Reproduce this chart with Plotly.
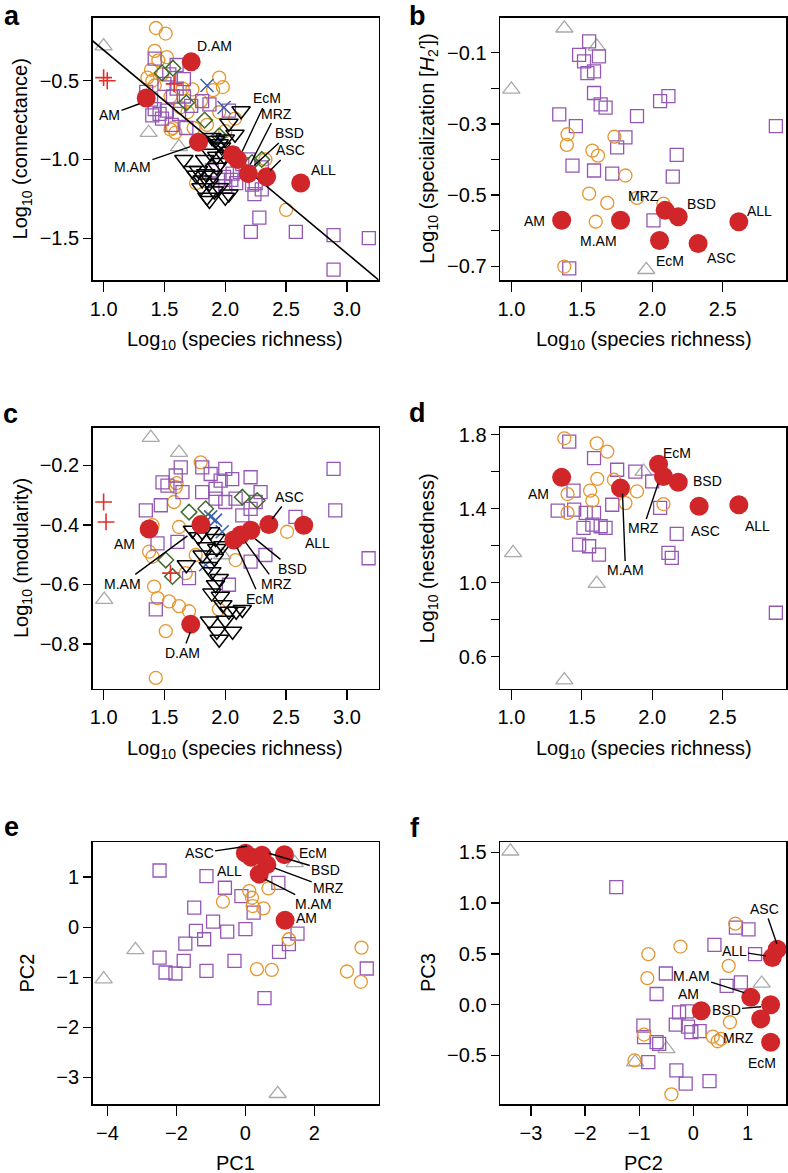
import plotly.graph_objects as go

W, H = 788, 1173
FONT = "Liberation Sans, Arial, Helvetica, sans-serif"

C_GRAY = "#A9A9A9"
C_ORANGE = "#E5962E"
C_PURPLE = "#9457B4"
C_GREEN = "#3F6B2E"
C_BLUE = "#3F5FAE"
C_CROSS = "#E0302A"
C_BLACK = "#000000"
C_RED = "#D0262A"

# ---------------- Panel a: richness vs connectance ----------------
a_gray_x = [1.00, 1.37, 1.62]
a_gray_y = [-0.28, -0.83, -0.92]
a_cross_x = [1.00, 1.03, 1.58]
a_cross_y = [-0.48, -0.50, -0.52]
a_blue_x = [1.85, 1.99, 1.95]
a_blue_y = [-0.53, -0.67, -0.88]
a_green_x = [1.48, 1.57, 1.68, 1.83, 1.95, 2.22, 2.30]
a_green_y = [-0.45, -0.42, -0.64, -0.75, -0.85, -1.02, -1.00]
a_orange_x = [1.43, 1.51, 1.42, 1.52, 1.45, 1.39, 1.36, 1.40, 1.42, 1.48, 1.73, 1.95, 1.98, 1.90,
              1.63, 1.69, 1.57, 1.59, 1.55, 1.74, 1.85, 2.08, 2.33, 2.50, 1.76, 1.65, 1.55, 1.80,
              2.00, 1.95]
a_orange_y = [-0.165, -0.20, -0.31, -0.35, -0.37, -0.43, -0.48, -0.50, -0.53, -0.46, -0.555, -0.48,
              -0.54, -0.56, -0.67, -0.70, -0.80, -0.83, -0.81, -0.80, -0.78, -0.74, -1.00, -1.32,
              -1.15, -0.55, -0.60, -0.63, -0.82, -0.70]
a_purple_x = [1.42, 1.35, 1.39, 1.42, 1.46, 1.48, 1.40, 1.52, 1.62, 1.66, 1.66, 1.57, 1.60, 1.68,
              1.81, 1.87, 2.03, 1.72, 1.56, 1.50, 1.54, 1.60, 1.99, 2.06, 2.14, 2.19, 2.09, 2.25,
              2.30, 2.00, 1.89, 2.22, 2.24, 2.12, 2.05, 2.21, 2.28, 2.58, 2.89, 3.18, 2.89, 2.30,
              1.94]
a_purple_y = [-0.36, -0.57, -0.62, -0.68, -0.71, -0.74, -0.72, -0.69, -0.71, -0.60, -0.49, -0.60,
              -0.55, -0.80, -0.63, -0.65, -0.69, -0.66, -0.78, -0.52, -0.46, -0.40, -1.11, -1.09,
              -1.03, -1.00, -1.15, -1.15, -1.19, -1.17, -1.07, -1.16, -1.22, -1.08, -1.13, -1.46,
              -1.37, -1.46, -1.48, -1.50, -1.70, -1.05, -1.13]
a_black_x = [2.13, 2.03, 2.08, 1.89, 1.95, 1.92, 2.00, 1.97, 2.03, 1.88, 1.93, 1.66, 1.73, 1.78,
             1.84, 1.81, 1.76, 1.90, 1.87, 1.85, 1.87, 1.95, 2.00, 2.03, 1.93, 1.96, 1.83, 1.99,
             1.91, 1.80]
a_black_y = [-0.69, -0.77, -0.84, -0.86, -0.90, -0.88, -0.87, -0.92, -0.95, -0.96, -0.98, -1.00,
             -1.07, -1.07, -1.09, -1.13, -1.10, -1.10, -1.15, -1.24, -1.26, -1.18, -1.24, -1.22,
             -1.05, -1.02, -1.00, -0.98, -1.20, -1.18]
a_red_labels = ["AM", "D.AM", "M.AM", "EcM", "MRZ", "BSD", "ASC", "ALL"]
a_red_x = [1.35, 1.72, 1.78, 2.06, 2.10, 2.19, 2.34, 2.62]
a_red_y = [-0.61, -0.38, -0.89, -0.97, -1.00, -1.09, -1.11, -1.15]
a_fit_intercept = 0.341
a_fit_slope = -0.646

# ---------------- Panel b: richness vs specialization ----------------
b_gray_x = [1.376, 1.00, 1.606, 1.958]
b_gray_y = [-0.031, -0.203, -0.082, -0.710]
b_purple_x = [1.552, 1.481, 1.516, 1.540, 1.587, 1.622, 1.587, 1.634, 1.669, 1.340, 1.458, 1.892,
              2.056, 2.115, 2.878, 1.810, 1.751, 1.434, 1.587, 1.716, 2.174, 2.146, 2.009, 1.411]
b_purple_y = [-0.068, -0.106, -0.124, -0.157, -0.152, -0.110, -0.213, -0.245, -0.254, -0.273,
              -0.306, -0.278, -0.236, -0.222, -0.306, -0.338, -0.366, -0.417, -0.431, -0.440,
              -0.387, -0.448, -0.571, -0.706]
b_orange_x = [1.399, 1.394, 1.575, 1.615, 1.732, 1.810, 1.552, 1.681, 1.892, 1.599, 2.080, 1.376]
b_orange_y = [-0.329, -0.359, -0.375, -0.389, -0.336, -0.445, -0.496, -0.522, -0.508, -0.575,
              -0.524, -0.701]
b_red_labels = ["AM", "M.AM", "MRZ", "BSD", "EcM", "ASC", "ALL"]
b_red_x = [1.357, 1.775, 2.092, 2.185, 2.052, 2.326, 2.615]
b_red_y = [-0.571, -0.571, -0.543, -0.561, -0.628, -0.636, -0.575]

# ---------------- Panel c: richness vs modularity ----------------
c_gray_x = [1.388, 1.620, 1.005, 1.975]
c_gray_y = [-0.107, -0.157, -0.651, -0.501]
c_cross_x = [1.00, 1.02, 1.55]
c_cross_y = [-0.323, -0.390, -0.562]
c_blue_x = [1.88, 1.92, 1.975, 1.839]
c_blue_y = [-0.373, -0.384, -0.423, -0.534]
c_green_x = [1.702, 1.839, 2.14, 2.262, 1.511, 1.566]
c_green_y = [-0.357, -0.346, -0.307, -0.318, -0.518, -0.573]
c_orange_x = [1.798, 1.593, 1.579, 1.402, 1.620, 1.374, 1.402, 1.415, 1.443, 1.538, 1.620, 1.702,
              1.511, 1.429, 1.757, 1.675, 2.085, 2.508, 1.948, 1.600]
c_orange_y = [-0.190, -0.273, -0.323, -0.401, -0.407, -0.490, -0.507, -0.607, -0.646, -0.657,
              -0.673, -0.690, -0.757, -0.914, -0.501, -0.562, -0.518, -0.423, -0.684, -0.260]
c_purple_x = [1.634, 1.811, 1.880, 2.000, 1.962, 2.057, 2.208, 1.484, 1.525, 1.593, 1.648, 1.470,
              1.347, 2.290, 2.250, 1.920, 2.000, 2.085, 2.208, 2.140, 2.577, 2.890, 2.904, 3.178,
              2.208, 2.330, 1.607, 1.443, 1.702, 2.030, 1.429, 1.920, 1.810]
c_purple_y = [-0.207, -0.207, -0.229, -0.212, -0.251, -0.246, -0.240, -0.257, -0.268, -0.234,
              -0.290, -0.334, -0.351, -0.290, -0.323, -0.312, -0.323, -0.312, -0.346, -0.368,
              -0.373, -0.212, -0.351, -0.512, -0.523, -0.501, -0.457, -0.462, -0.579, -0.601,
              -0.684, -0.279, -0.290]
c_black_x = [1.73, 1.81, 1.88, 1.92, 1.84, 1.93, 1.98, 1.81, 1.91, 1.68, 1.89, 1.92, 1.89, 1.98,
             2.03, 2.09, 2.14, 1.87, 1.93, 2.06, 1.95, 1.78, 1.86, 1.95, 2.00, 1.96]
c_black_y = [-0.418, -0.423, -0.423, -0.446, -0.473, -0.479, -0.470, -0.501, -0.512, -0.534,
             -0.557, -0.601, -0.629, -0.668, -0.690, -0.690, -0.684, -0.723, -0.757, -0.757,
             -0.784, -0.440, -0.540, -0.580, -0.720, -0.640]
c_red_labels = ["AM", "D.AM", "M.AM", "EcM", "MRZ", "BSD", "ASC", "ALL"]
c_red_x = [1.374, 1.716, 1.800, 2.070, 2.126, 2.210, 2.358, 2.645]
c_red_y = [-0.414, -0.734, -0.399, -0.451, -0.434, -0.418, -0.399, -0.401]

# ---------------- Panel d: richness vs nestedness ----------------
d_gray_x = [1.012, 1.606, 1.376, 1.939]
d_gray_y = [1.161, 0.995, 0.474, 1.600]
d_orange_x = [1.376, 1.606, 1.681, 1.610, 1.728, 1.559, 1.399, 1.575, 1.399, 1.810, 1.892, 2.080]
d_orange_y = [1.780, 1.753, 1.708, 1.561, 1.556, 1.497, 1.479, 1.443, 1.377, 1.430, 1.493, 1.425]
d_purple_x = [1.411, 1.587, 1.751, 1.880, 2.000, 1.441, 1.329, 1.446, 1.528, 1.587, 1.716, 1.512,
              1.575, 1.634, 1.669, 1.481, 1.552, 1.622, 2.056, 2.174, 2.115, 2.139, 2.878]
d_purple_y = [1.762, 1.673, 1.610, 1.600, 1.547, 1.497, 1.389, 1.395, 1.377, 1.377, 1.421, 1.296,
              1.314, 1.305, 1.296, 1.206, 1.197, 1.152, 1.404, 1.264, 1.161, 1.134, 0.838]
d_red_labels = ["AM", "M.AM", "EcM", "MRZ", "BSD", "ASC", "ALL"]
d_red_x = [1.357, 1.775, 2.045, 2.080, 2.185, 2.333, 2.615]
d_red_y = [1.569, 1.511, 1.640, 1.574, 1.543, 1.413, 1.421]

# ---------------- Panel e: PC1 vs PC2 ----------------
e_gray_x = [-4.11, -3.19, 0.935, 1.43]
e_gray_y = [-1.04, -0.454, -3.33, 1.285]
e_purple_x = [-2.49, -1.13, -0.595, -0.117, -1.485, -0.939, -1.436, -1.197, -1.743, -0.528, 0.0,
              -2.49, -1.79, -2.317, -2.03, -1.13, -0.318, 0.237, 0.954, 1.509, 1.26, 0.974,
              3.518, 0.553]
e_purple_y = [1.133, 1.02, 0.788, 0.622, 0.389, 0.11, -0.076, -0.242, -0.328, -0.089, -0.04,
              -0.607, -0.673, -0.906, -0.926, -0.873, -0.673, 0.29, 0.887, -0.129, -0.341, -0.494,
              -0.826, -1.417]
e_orange_x = [-0.653, 0.112, 0.189, 0.208, 0.524, 0.668, 1.26, 0.333, 0.763, 3.365, 2.944, 3.346]
e_orange_y = [0.509, 0.721, 0.588, 0.422, 0.376, 0.774, -0.242, -0.839, -0.853, -0.408, -0.886,
              -1.092]
e_red_labels = ["ASC", "ALL", "BSD", "EcM", "MRZ", "M.AM", "AM"]
e_red_x = [0.00, 0.16, 0.48, 1.13, 0.62, 0.40, 1.15]
e_red_y = [1.48, 1.40, 1.44, 1.45, 1.25, 1.06, 0.14]

# ---------------- Panel f: PC2 vs PC3 ----------------
f_gray_x = [-3.38, 1.261, -0.497, -1.077]
f_gray_y = [1.51, 0.209, -0.435, -0.565]
f_purple_x = [-1.425, 0.388, 0.785, 1.017, 1.139, -0.509, -0.68, 0.614, 0.877, -0.265, -0.118,
              -0.326, -0.10, -0.039, 0.114, -0.924, -0.912, -0.68, -0.632, -0.833, -0.314, -0.143,
              0.297]
f_purple_y = [1.157, 0.588, 0.758, 0.742, 0.497, 0.307, 0.105, 0.186, 0.219, -0.075, -0.065,
              -0.196, -0.216, -0.271, -0.261, -0.206, -0.32, -0.369, -0.386, -0.565, -0.647,
              -0.778, -0.752]
f_orange_x = [0.773, -0.24, -0.833, -0.851, 0.651, 0.675, -0.912, 0.358, 0.449, 0.51, -1.089,
              -0.406]
f_orange_y = [0.797, 0.572, 0.497, 0.261, 0.382, -0.173, -0.294, -0.314, -0.36, -0.337, -0.549,
              -0.882]
f_red_labels = ["AM", "M.AM", "ASC", "ALL", "BSD", "MRZ", "EcM"]
f_red_x = [0.144, 1.06, 1.548, 1.457, 1.426, 1.243, 1.426]
f_red_y = [-0.059, 0.072, 0.546, 0.464, 0.0, -0.14, -0.369]

# ================= figure =================
fig = go.Figure()


def px_x(px):
    return px / W


def px_y(py):
    return 1 - py / H


S_OPEN_CIRCLE = 13
S_SQUARE = 13
S_TRI = 15
S_TRI_DOWN = 16
S_DIAMOND = 12
S_RED = 19


def add_pts(xs, ys, symbol, color, size, ax, lw=1.3, filled=False):
    xa, ya = ax
    if filled:
        marker = dict(symbol=symbol, size=size, color=color, line=dict(width=0))
    else:
        marker = dict(symbol=symbol, size=size, color=color, line=dict(color=color, width=lw))
    fig.add_trace(go.Scatter(x=xs, y=ys, mode="markers", marker=marker,
                             xaxis=xa, yaxis=ya, hoverinfo="skip", cliponaxis=False))


AX = {"a": ("x", "y"), "b": ("x2", "y2"), "c": ("x3", "y3"),
      "d": ("x4", "y4"), "e": ("x5", "y5"), "f": ("x6", "y6")}

# panel a
add_pts(a_gray_x, a_gray_y, "triangle-up-open", C_GRAY, S_TRI, AX["a"])
add_pts(a_orange_x, a_orange_y, "circle-open", C_ORANGE, S_OPEN_CIRCLE, AX["a"])
add_pts(a_purple_x, a_purple_y, "square-open", C_PURPLE, S_SQUARE, AX["a"])
add_pts(a_green_x, a_green_y, "diamond-open", C_GREEN, S_DIAMOND, AX["a"], lw=1.5)
add_pts(a_blue_x, a_blue_y, "x-thin", C_BLUE, 13, AX["a"], lw=1.6)
add_pts(a_cross_x, a_cross_y, "cross-thin", C_CROSS, 12, AX["a"], lw=1.6)
add_pts(a_black_x, a_black_y, "triangle-down-open", C_BLACK, S_TRI_DOWN, AX["a"], lw=1.5)
fit_x = [0.85, 3.40]
fit_y = [a_fit_intercept + a_fit_slope * v for v in fit_x]
fig.add_trace(go.Scatter(x=fit_x, y=fit_y, mode="lines", line=dict(color="black", width=1.6),
                         xaxis="x", yaxis="y", hoverinfo="skip"))
add_pts(a_red_x, a_red_y, "circle", C_RED, S_RED, AX["a"], filled=True)

# panel b
add_pts(b_gray_x, b_gray_y, "triangle-up-open", C_GRAY, S_TRI, AX["b"])
add_pts(b_purple_x, b_purple_y, "square-open", C_PURPLE, S_SQUARE, AX["b"])
add_pts(b_orange_x, b_orange_y, "circle-open", C_ORANGE, S_OPEN_CIRCLE, AX["b"])
add_pts(b_red_x, b_red_y, "circle", C_RED, S_RED, AX["b"], filled=True)

# panel c
add_pts(c_gray_x, c_gray_y, "triangle-up-open", C_GRAY, S_TRI, AX["c"])
add_pts(c_orange_x, c_orange_y, "circle-open", C_ORANGE, S_OPEN_CIRCLE, AX["c"])
add_pts(c_purple_x, c_purple_y, "square-open", C_PURPLE, S_SQUARE, AX["c"])
add_pts(c_green_x, c_green_y, "diamond-open", C_GREEN, S_DIAMOND, AX["c"], lw=1.5)
add_pts(c_blue_x, c_blue_y, "x-thin", C_BLUE, 13, AX["c"], lw=1.6)
add_pts(c_cross_x, c_cross_y, "cross-thin", C_CROSS, 12, AX["c"], lw=1.6)
add_pts(c_black_x, c_black_y, "triangle-down-open", C_BLACK, S_TRI_DOWN, AX["c"], lw=1.5)
add_pts(c_red_x, c_red_y, "circle", C_RED, S_RED, AX["c"], filled=True)

# panel d
add_pts(d_gray_x, d_gray_y, "triangle-up-open", C_GRAY, S_TRI, AX["d"])
add_pts(d_purple_x, d_purple_y, "square-open", C_PURPLE, S_SQUARE, AX["d"])
add_pts(d_orange_x, d_orange_y, "circle-open", C_ORANGE, S_OPEN_CIRCLE, AX["d"])
add_pts(d_red_x, d_red_y, "circle", C_RED, S_RED, AX["d"], filled=True)

# panel e
add_pts(e_gray_x, e_gray_y, "triangle-up-open", C_GRAY, S_TRI, AX["e"])
add_pts(e_purple_x, e_purple_y, "square-open", C_PURPLE, S_SQUARE, AX["e"])
add_pts(e_orange_x, e_orange_y, "circle-open", C_ORANGE, S_OPEN_CIRCLE, AX["e"])
add_pts(e_red_x, e_red_y, "circle", C_RED, S_RED, AX["e"], filled=True)

# panel f
add_pts(f_gray_x, f_gray_y, "triangle-up-open", C_GRAY, S_TRI, AX["f"])
add_pts(f_purple_x, f_purple_y, "square-open", C_PURPLE, S_SQUARE, AX["f"])
add_pts(f_orange_x, f_orange_y, "circle-open", C_ORANGE, S_OPEN_CIRCLE, AX["f"])
add_pts(f_red_x, f_red_y, "circle", C_RED, S_RED, AX["f"], filled=True)

TICK_FONT = dict(family=FONT, size=20, color="black")


def axis(rng, dom, anchor, vals, texts, ticklen, minor_vals=None):
    d = dict(range=rng, domain=dom, anchor=anchor, tickmode="array", tickvals=vals,
             ticktext=texts, showline=True, mirror=True, linecolor="black", linewidth=1.5,
             ticks="outside", ticklen=ticklen, tickwidth=1.3, tickcolor="black",
             showgrid=False, zeroline=False, fixedrange=True, tickfont=TICK_FONT)
    if minor_vals:
        d["minor"] = dict(tickmode="array", tickvals=minor_vals, ticks="outside",
                          ticklen=ticklen, tickwidth=1.3, tickcolor="black", showgrid=False)
    return d


LEFT_X = [px_x(90), px_x(377)]
RIGHT_X = [px_x(499), px_x(786)]
ROW1 = [px_y(277), px_y(14)]
ROW2 = [px_y(687), px_y(425)]
ROW3 = [px_y(1104), px_y(841)]

rich_vals = [1.0, 1.5, 2.0, 2.5, 3.0]
rich_text = ["1.0", "1.5", "2.0", "2.5", "3.0"]
rich_vals_b = [1.0, 1.5, 2.0, 2.5]
rich_text_b = ["1.0", "1.5", "2.0", "2.5"]

fig.update_layout(
    width=W, height=H, margin=dict(l=0, r=0, t=0, b=0),
    paper_bgcolor="white", plot_bgcolor="white", showlegend=False,
    font=dict(family=FONT, color="black"),
    xaxis=axis([0.91, 3.26], LEFT_X, "y", rich_vals, rich_text, 10),
    yaxis=axis([-1.766, -0.101], ROW1, "x", [-0.5, -1.0, -1.5], ["−0.5", "−1.0", "−1.5"], 8),
    xaxis2=axis([0.92, 2.95], RIGHT_X, "y2", rich_vals_b, rich_text_b, 10),
    yaxis2=axis([-0.739, -0.002], ROW1, "x2", [-0.1, -0.3, -0.5, -0.7],
                ["−0.1", "−0.3", "−0.5", "−0.7"], 8, minor_vals=[-0.2, -0.4, -0.6]),
    xaxis3=axis([0.91, 3.26], LEFT_X, "y3", rich_vals, rich_text, 10),
    yaxis3=axis([-0.95, -0.073], ROW2, "x3", [-0.2, -0.4, -0.6, -0.8],
                ["−0.2", "−0.4", "−0.6", "−0.8"], 8),
    xaxis4=axis([0.92, 2.95], RIGHT_X, "y4", rich_vals_b, rich_text_b, 10),
    yaxis4=axis([0.428, 1.838], ROW2, "x4", [1.8, 1.4, 1.0, 0.6],
                ["1.8", "1.4", "1.0", "0.6"], 8, minor_vals=[1.6, 1.2, 0.8]),
    xaxis5=axis([-4.43, 3.86], LEFT_X, "y5", [-4, -2, 0, 2], ["−4", "−2", "0", "2"], 10),
    yaxis5=axis([-3.54, 1.70], ROW3, "x5", [1, 0, -1, -2, -3], ["1", "0", "−1", "−2", "−3"], 8),
    xaxis6=axis([-3.57, 1.71], RIGHT_X, "y6", [-3, -2, -1, 0, 1], ["−3", "−2", "−1", "0", "1"], 10),
    yaxis6=axis([-0.98, 1.60], ROW3, "x6", [1.5, 1.0, 0.5, 0.0, -0.5],
                ["1.5", "1.0", "0.5", "0.0", "−0.5"], 8),
)

ann = []
LBL = dict(family=FONT, size=14, color="black")


def label(panel, text, x, y):
    xa, ya = AX[panel]
    ann.append(dict(x=x, y=y, xref=xa, yref=ya, text=text, showarrow=False, font=LBL))


def pointer(panel, text, x, y, dx, dy):
    xa, ya = AX[panel]
    ann.append(dict(x=x, y=y, xref=xa, yref=ya, text=text, showarrow=True, arrowhead=0,
                    arrowwidth=1.4, arrowcolor="black", ax=dx, ay=dy, font=LBL,
                    borderpad=1, standoff=0))


# panel a labels
pointer("a", "AM", 1.295, -0.646, -30, 11)
label("a", "D.AM", 1.91, -0.278)
pointer("a", "M.AM", 1.713, -0.918, -58, 20)
pointer("a", "EcM", 2.139, -0.949, 25, -53)
pointer("a", "MRZ", 2.205, -1.032, 26, -51)
pointer("a", "BSD", 2.238, -1.038, 35, -32)
pointer("a", "ASC", 2.369, -1.07, 20, -20)
label("a", "ALL", 2.81, -1.07)

# panel b labels
label("b", "AM", 1.162, -0.574)
label("b", "M.AM", 1.62, -0.63)
label("b", "MRZ", 1.937, -0.502)
label("b", "BSD", 2.352, -0.524)
label("b", "EcM", 2.127, -0.686)
label("b", "ASC", 2.493, -0.678)
label("b", "ALL", 2.761, -0.544)

# panel c labels
label("c", "AM", 1.172, -0.463)
pointer("c", "M.AM", 1.689, -0.437, -65, 48)
pointer("c", "ASC", 2.385, -0.38, 17, -22)
label("c", "ALL", 2.754, -0.46)
pointer("c", "BSD", 2.246, -0.447, 37, 30)
pointer("c", "MRZ", 2.164, -0.457, 31, 42)
pointer("c", "EcM", 2.098, -0.477, 23, 51)
pointer("c", "D.AM", 1.713, -0.76, -8, 21)

# panel d labels
label("d", "AM", 1.19, 1.477)
pointer("d", "M.AM", 1.789, 1.482, 3, 77)
pointer("d", "MRZ", 2.042, 1.536, -15, 45)
label("d", "EcM", 2.176, 1.698)
label("d", "BSD", 2.394, 1.547)
label("d", "ASC", 2.38, 1.278)
label("d", "ALL", 2.746, 1.305)

# panel e labels
pointer("e", "ASC", 0.046, 1.618, -48, 7)
label("e", "ALL", -0.47, 1.12)
label("e", "EcM", 1.968, 1.478)
pointer("e", "BSD", 0.677, 1.478, 57, 17)
pointer("e", "MRZ", 0.849, 1.179, 54, 20)
pointer("e", "M.AM", 0.562, 0.96, 49, 25)
label("e", "AM", 1.768, 0.183)

# panel f labels
pointer("f", "ASC", 1.542, 0.598, -12, -35)
pointer("f", "ALL", 1.341, 0.48, -32, -5)
pointer("f", "M.AM", 0.938, 0.118, -53, -17)
label("f", "AM", -0.088, 0.108)
pointer("f", "BSD", 1.249, -0.02, -35, 3)
label("f", "MRZ", 0.828, -0.324)
label("f", "EcM", 1.267, -0.578)

# axis titles
TITLE = dict(family=FONT, size=20, color="black")
rich = "Log<sub>10</sub> (species richness)"
xtitles = [(rich, 233, 338), (rich, 643, 338), (rich, 233, 748), (rich, 643, 748),
           ("PC1", 233, 1163), ("PC2", 643, 1163)]
for t, xx, yy in xtitles:
    ann.append(dict(x=px_x(xx), y=px_y(yy), xref="paper", yref="paper", text=t,
                    showarrow=False, font=TITLE, xanchor="center", yanchor="middle"))
ytitles = [("Log<sub>10</sub> (connectance)", 19, 145),
           ("Log<sub>10</sub> (specialization [<i>H</i><sub>2</sub>′])", 427, 145),
           ("Log<sub>10</sub> (modularity)", 19, 556),
           ("Log<sub>10</sub> (nestedness)", 427, 556),
           ("PC2", 24, 972), ("PC3", 426, 972)]
for t, xx, yy in ytitles:
    ann.append(dict(x=px_x(xx), y=px_y(yy), xref="paper", yref="paper", text=t,
                    showarrow=False, font=TITLE, textangle=-90,
                    xanchor="center", yanchor="middle"))

# panel letters
LET = dict(family=FONT, size=27, color="black")
for t, xx, yy in [("a", 9, 12), ("b", 416, 12), ("c", 8, 411), ("d", 416, 410),
                  ("e", 9, 826), ("f", 414, 827)]:
    ann.append(dict(x=px_x(xx), y=px_y(yy), xref="paper", yref="paper", text="<b>" + t + "</b>",
                    showarrow=False, font=LET, xanchor="center", yanchor="middle"))

fig.update_layout(annotations=ann)
fig.write_html("out.html", config={"displayModeBar": False, "staticPlot": True},
               post_script="document.body.style.margin='0px';document.body.style.overflow='hidden';")
